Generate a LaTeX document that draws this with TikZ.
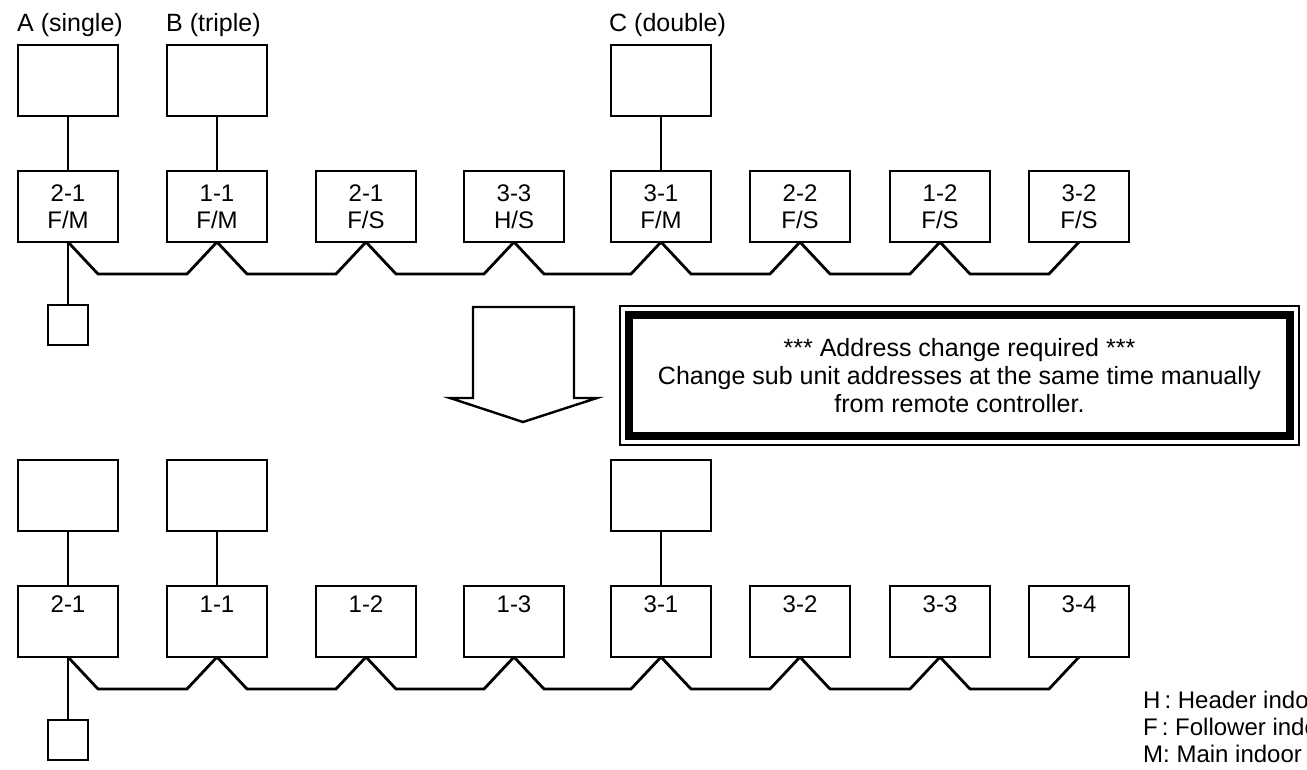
\documentclass[tikz,border=0pt]{standalone}
\usepackage{fontspec}
\setmainfont{Liberation Sans}
\usetikzlibrary{calc,positioning}
\tikzset{
    wiring/.style={line width=2.8pt, line join=miter},
    unit/.style={draw, wiring, minimum width=100pt, minimum height=71pt,
        inner sep=0pt, outer sep=0pt, align=center,
        font=\fontsize{24}{27}\selectfont},
    outdoor/.style={unit},
    remote/.style={draw, wiring, minimum size=40pt, inner sep=0pt, outer sep=0pt},
    caption/.style={anchor=base west, inner sep=0pt, font=\fontsize{25}{28}\selectfont},
    legend/.style={anchor=west, inner sep=0pt, font=\fontsize{24}{28}\selectfont},
}
\begin{document}
\begin{tikzpicture}[x=1pt, y=-1pt]
    \useasboundingbox (0,0) rectangle (1307,770);
    % before the change
    \node[caption] (capA) at (17,32) {A (single)};
    \node[caption] (capB) at (166,32) {B (triple)};
    \node[caption] (capC) at (609,32) {C (double)};
    \node[outdoor] (oA) at (68,80.5) {};
    \node[outdoor] (oB) at (217,80.5) {};
    \node[outdoor] (oC) at (661,80.5) {};
    \foreach \name/\x/\txt in {u1/68/{2-1\\F/M}, u2/217/{1-1\\F/M}, u3/366/{2-1\\F/S},
        u4/514/{3-3\\H/S}, u5/661/{3-1\\F/M}, u6/800/{2-2\\F/S}, u7/940/{1-2\\F/S},
        u8/1079/{3-2\\F/S}}
        \node[unit] (\name) at (\x,206.5) {\txt};
    \node[remote] (r1) at (68,325) {};
    \draw[wiring] (oA) -- (u1);
    \draw[wiring] (oB) -- (u2);
    \draw[wiring] (oC) -- (u5);
    \draw[wiring] (u1.south) -- (r1.north);
    \foreach \i [count=\j from 2] in {1,...,7}
        \draw[wiring] (u\i.south) -- ++(30,32) -- ($(u\j.south)+(-30,32)$) -- (u\j.south);

    % change arrow and message
    \draw[wiring, line width=2.4pt] (473,307) -- (574,307) -- (574,398) -- (597,398) -- (523,422)
        -- (450,398) -- (473,398) -- cycle;
    \node[draw, line width=8pt, outer sep=0pt, minimum width=661pt, minimum height=121pt,
        align=center, font=\fontsize{25}{28}\selectfont] (msg) at (959.5,375.5)
        {*** Address change required ***\\Change sub unit addresses at the same time manually\\from remote controller.};
    \draw[line width=2.4pt] ([shift={(-9,-9)}]msg.north west) rectangle ([shift={(9,9)}]msg.south east);

    % after the change
    \node[outdoor] (pA) at (68,495.5) {};
    \node[outdoor] (pB) at (217,495.5) {};
    \node[outdoor] (pC) at (661,495.5) {};
    \foreach \name/\x/\txt in {v1/68/2-1, v2/217/1-1, v3/366/1-2, v4/514/1-3,
        v5/661/3-1, v6/800/3-2, v7/940/3-3, v8/1079/3-4}
        \node[unit] (\name) at (\x,621.5) {\txt\\\strut};
    \node[remote] (r2) at (68,740) {};
    \draw[wiring] (pA) -- (v1);
    \draw[wiring] (pB) -- (v2);
    \draw[wiring] (pC) -- (v5);
    \draw[wiring] (v1.south) -- (r2.north);
    \foreach \i [count=\j from 2] in {1,...,7}
        \draw[wiring] (v\i.south) -- ++(30,32) -- ($(v\j.south)+(-30,32)$) -- (v\j.south);

    % legend
    \node[legend] (lgH) at (1143,700) {H\,: Header indoor unit};
    \node[legend] (lgF) at (1143,727) {F\,: Follower indoor unit};
    \node[legend] (lgM) at (1143,754) {M: Main indoor unit};
\end{tikzpicture}
\end{document}
